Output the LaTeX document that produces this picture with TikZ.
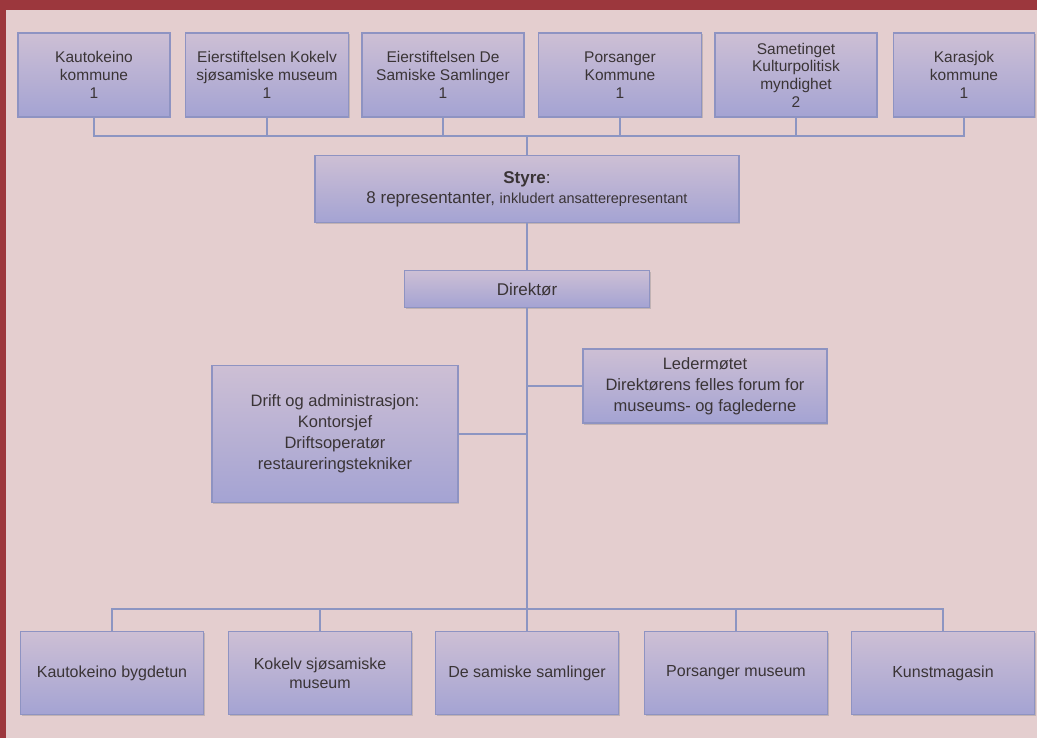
\documentclass[tikz,border=0pt]{standalone}
\usepackage{fontspec}
\setmainfont{Liberation Sans}
\usetikzlibrary{shadows}
\definecolor{framered}{HTML}{9C373D}
\definecolor{pagepink}{HTML}{E4CECF}
\definecolor{boxtop}{HTML}{CDBFD4}
\definecolor{boxbot}{HTML}{A4A3D3}
\definecolor{boxedge}{HTML}{8E93C2}
\definecolor{linkblue}{HTML}{8C95C2}
\definecolor{txtgrey}{HTML}{3A3436}
\tikzset{
  orgbox/.style={rectangle,draw=boxedge,line width=1.1pt,top color=boxtop,bottom color=boxbot,
    text=txtgrey,align=center,inner sep=2pt,
    drop shadow={opacity=0.35,shadow xshift=1pt,shadow yshift=-1.5pt}},
  link/.style={draw=linkblue,line width=1.3pt},
}
\newcommand{\ownerfont}{\fontsize{15.5}{17.7}\selectfont}
\newcommand{\midfont}{\fontsize{16.5}{21}\selectfont}
\newcommand{\unitfont}{\fontsize{16}{19}\selectfont}
\begin{document}
\begin{tikzpicture}[x=1pt,y=-1pt]
\fill[framered] (0,0) rectangle (1037,738);
\fill[pagepink] (6,10) rectangle (1037,738);
\useasboundingbox (0,0) rectangle (1037,738);
% owners
\node[orgbox,minimum width=152,minimum height=84,font=\ownerfont] (o1) at (94,75) {Kautokeino\\kommune\\1};
\node[orgbox,minimum width=163,minimum height=84,font=\ownerfont] (o2) at (267,75) {Eierstiftelsen Kokelv\\sjøsamiske museum\\1};
\node[orgbox,minimum width=162,minimum height=84,font=\ownerfont] (o3) at (443,75) {Eierstiftelsen De\\Samiske Samlinger\\1};
\node[orgbox,minimum width=163,minimum height=84,font=\ownerfont] (o4) at (620,75) {Porsanger\\Kommune\\1};
\node[orgbox,minimum width=162,minimum height=84,font=\ownerfont] (o5) at (796,75) {Sametinget\\Kulturpolitisk\\myndighet\\2};
\node[orgbox,minimum width=141,minimum height=84,font=\ownerfont] (o6) at (964,75) {Karasjok\\kommune\\1};
% board and director
\node[orgbox,minimum width=424,minimum height=67,font=\fontsize{17}{20}\selectfont] (styre) at (527,189)
  {\textbf{Styre}:\\8 representanter, {\fontsize{14.5}{20}\selectfont inkludert ansatterepresentant}};
\node[orgbox,minimum width=245,minimum height=37,font=\fontsize{17}{20}\selectfont] (dir) at (527,289) {Direktør};
\node[orgbox,minimum width=244,minimum height=74,font=\midfont] (leder) at (705,386) {Ledermøtet\\Direktørens felles forum for\\museums- og faglederne};
\node[orgbox,minimum width=246,minimum height=137,font=\midfont] (drift) at (335,434) {Drift og administrasjon:\\Kontorsjef\\Driftsoperatør\\restaureringstekniker};
% museums
\node[orgbox,minimum width=183,minimum height=83,font=\unitfont] (m1) at (112,673) {Kautokeino bygdetun};
\node[orgbox,minimum width=183,minimum height=83,font=\unitfont] (m2) at (320,673) {Kokelv sjøsamiske\\museum};
\node[orgbox,minimum width=183,minimum height=83,font=\unitfont] (m3) at (527,673) {De samiske samlinger};
\node[orgbox,minimum width=183,minimum height=83,font=\unitfont] (m4) at (736,673) {Porsanger museum};
\node[orgbox,minimum width=183,minimum height=83,font=\unitfont] (m5) at (943,673) {Kunstmagasin};
\coordinate (topbus) at (527,136);
\coordinate (botbus) at (527,609);
% connectors
\draw[link] (o1.south) |- (topbus) (o2.south) |- (topbus) (o3.south) |- (topbus)
  (o4.south) |- (topbus) (o5.south) |- (topbus) (o6.south) |- (topbus);
\draw[link] (topbus) -- (styre.north) (styre.south) -- (dir.north) (dir.south) -- (botbus);
\draw[link] (leder.west) -- (leder.west -| dir.south) (drift.east) -- (drift.east -| dir.south);
\draw[link] (botbus) -| (m1.north) (botbus) -| (m2.north) (botbus) -- (m3.north)
  (botbus) -| (m4.north) (botbus) -| (m5.north);
\end{tikzpicture}
\end{document}
